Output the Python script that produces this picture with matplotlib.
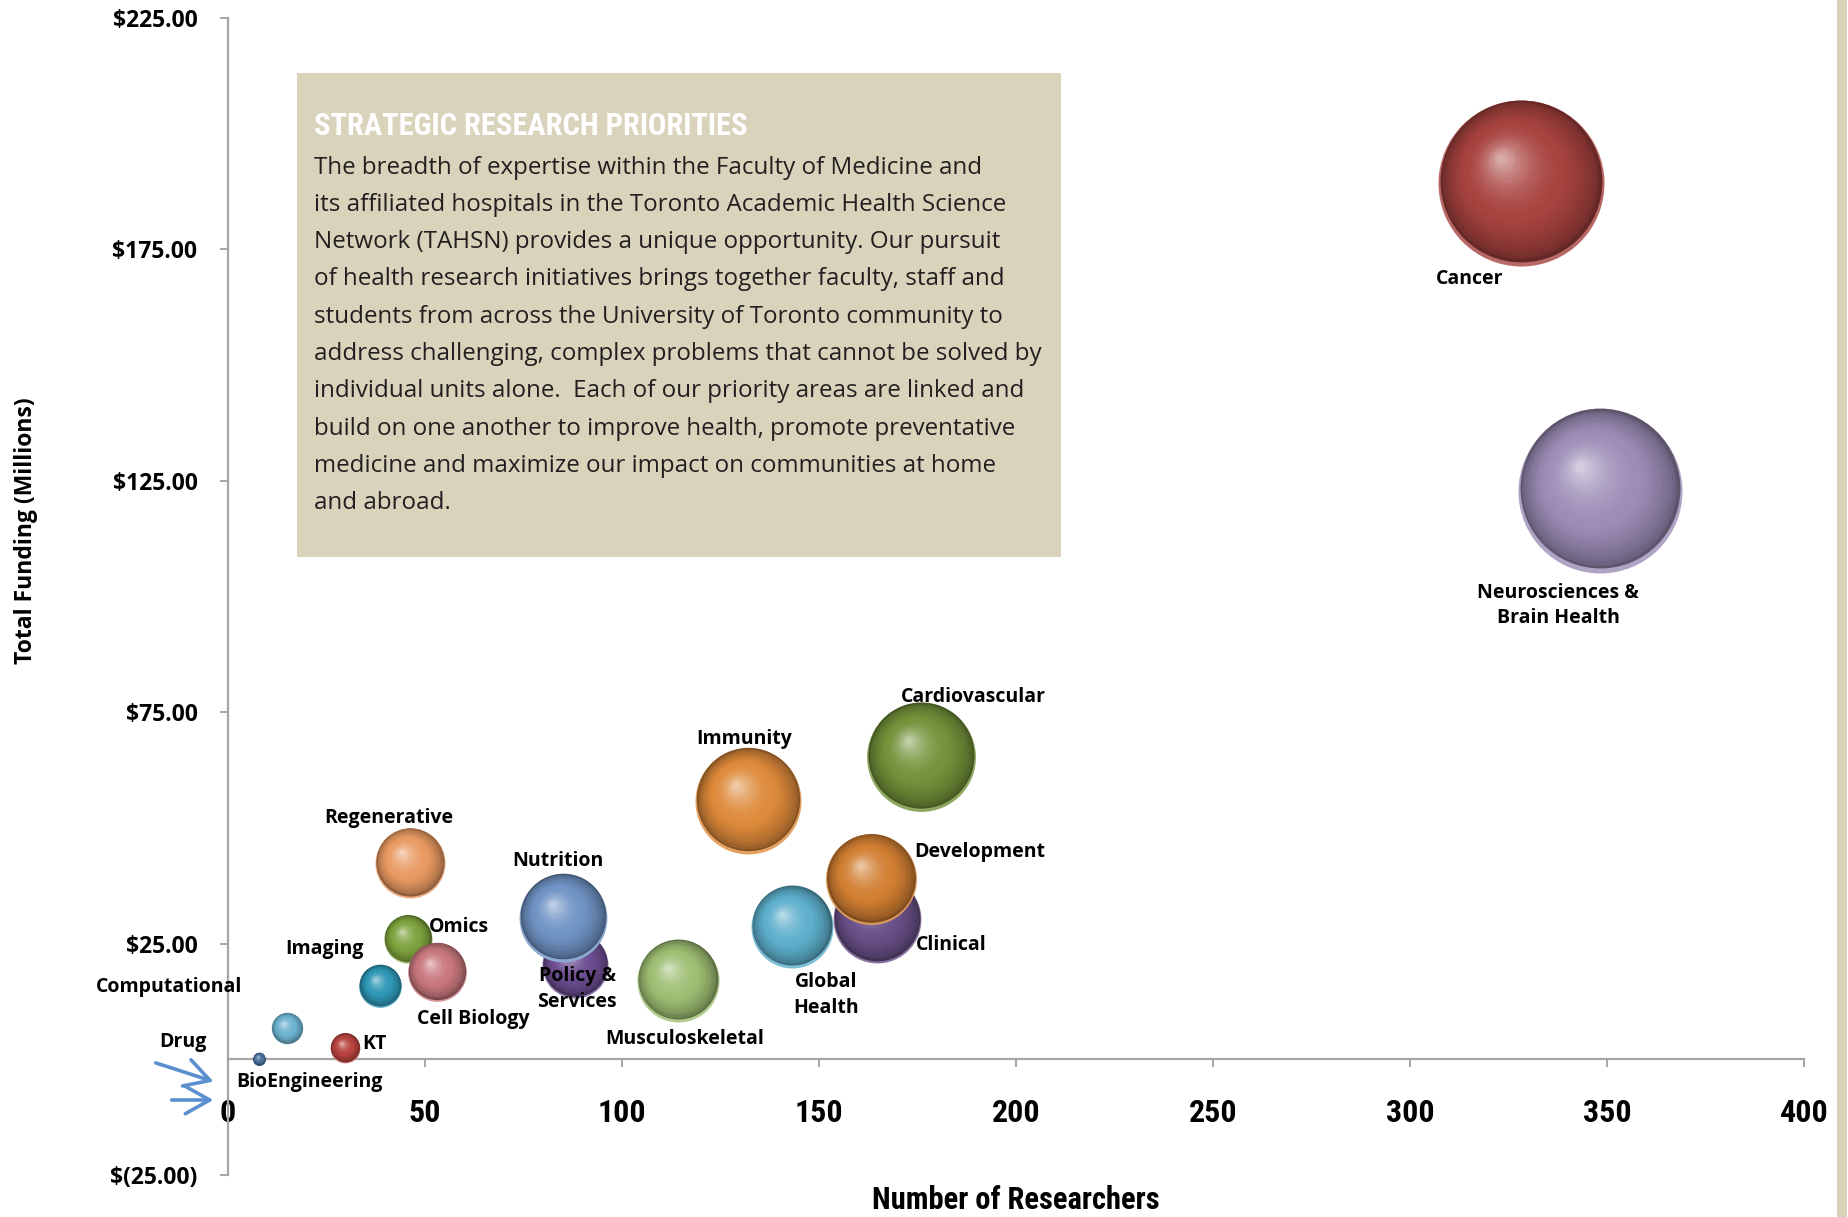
import os
import matplotlib
matplotlib.use("Agg")
import matplotlib.pyplot as plt
import numpy as np
from matplotlib import font_manager
from matplotlib.font_manager import FontProperties
from matplotlib.transforms import ScaledTranslation
from matplotlib.patches import Rectangle
from matplotlib.colors import to_rgb
from matplotlib.ticker import FuncFormatter

# ---------------------------------------------------------------- data
categories = ["Cancer", "Neurosciences & Brain Health", "Cardiovascular", "Immunity",
              "Clinical", "Development", "Global Health", "Musculoskeletal",
              "Policy & Services", "Nutrition", "Regenerative", "Omics",
              "Cell Biology", "Imaging", "Computational", "KT", "Drug",
              "BioEngineering"]
researchers = [328.2, 348.2, 176.0, 132.1, 164.7, 163.2, 143.1, 114.1,
               88.1, 85.0, 46.2, 45.6, 53.0, 38.7, 15.0, 29.7, 7.9, 0.0]
funding = [189.2, 122.7, 65.3, 55.8, 30.2, 38.9, 28.6, 17.0,
           20.4, 30.6, 42.4, 26.0, 18.9, 15.9, 6.7, 2.5, 0.1, 0.0]
bubble_size = [100.0, 97.6, 43.0, 40.8, 28.0, 30.0, 24.4, 24.4,
               15.8, 28.0, 17.8, 8.4, 12.5, 6.6, 3.6, 3.2, 0.6, 0.0]
x_ticks = [0, 50, 100, 150, 200, 250, 300, 350, 400]
y_ticks = [-25, 25, 75, 125, 175, 225]

# ---------------------------------------------------------------- styles
bubble_colors = {
    "Cancer": "#A8433F", "Neurosciences & Brain Health": "#9C8DB6",
    "Cardiovascular": "#73923A", "Immunity": "#DE8A3A", "Clinical": "#6A5088",
    "Development": "#D27F32", "Global Health": "#5DAFCB",
    "Musculoskeletal": "#9DBE72", "Policy & Services": "#6D4E92",
    "Nutrition": "#6F93C4", "Regenerative": "#E99A62", "Omics": "#7EA33E",
    "Cell Biology": "#C9787D", "Imaging": "#2E97B6", "Computational": "#6EB3D0",
    "KT": "#B8433E", "Drug": "#4A6F9E", "BioEngineering": "#4A6F9E",
}

# label text, anchor (data units), horizontal alignment
label_layout = {
    "Cancer": ("Cancer", 306.5, 168.6, "left"),
    "Neurosciences & Brain Health": ("Neurosciences &\nBrain Health", 337.6, 98.1, "center"),
    "Cardiovascular": ("Cardiovascular", 189.3, 78.3, "center"),
    "Immunity": ("Immunity", 131.0, 69.2, "center"),
    "Development": ("Development", 190.9, 44.8, "center"),
    "Clinical": ("Clinical", 183.5, 24.7, "center"),
    "Global Health": ("Global\nHealth", 151.8, 13.9, "center"),
    "Musculoskeletal": ("Musculoskeletal", 116.0, 4.4, "center"),
    "Policy & Services": ("Policy &\nServices", 88.6, 15.2, "center"),
    "Nutrition": ("Nutrition", 83.8, 42.8, "center"),
    "Regenerative": ("Regenerative", 40.9, 52.2, "center"),
    "Omics": ("Omics", 58.6, 28.6, "center"),
    "Cell Biology": ("Cell Biology", 62.2, 8.7, "center"),
    "Imaging": ("Imaging", 24.4, 23.9, "center"),
    "Computational": ("Computational", -15.0, 15.7, "center"),
    "KT": ("KT", 37.1, 3.3, "center"),
    "Drug": ("Drug", -11.4, 3.8, "center"),
    "BioEngineering": ("BioEngineering", 20.6, -4.9, "center"),
}


# ---------------------------------------------------------------- fonts
def pick_condensed_bold():
    prefs = ["liberationsansnarrow-bold", "robotocondensed-bold", "dejavusanscondensed-bold",
             "notosans-condensedbold", "opensans-condensedbold", "opensans_condensed-bold",
             "lato-black"]
    files = {os.path.basename(f.fname).lower(): f.fname for f in font_manager.fontManager.ttflist}
    for p in prefs:
        for name, path in files.items():
            if name.startswith(p) and "italic" not in name and "oblique" not in name:
                return FontProperties(fname=path)
    for name, path in files.items():
        if ("condensed" in name or "narrow" in name) and "bold" in name \
                and "italic" not in name and "oblique" not in name:
            return FontProperties(fname=path)
    for f in font_manager.fontManager.ttflist:
        if f.stretch in ("condensed", "semi-condensed") and f.weight in ("bold", 700):
            return FontProperties(fname=f.fname)
    return FontProperties(family="Roboto", weight="bold")


available = {f.name for f in font_manager.fontManager.ttflist}
label_font = "Open Sans" if "Open Sans" in available else "DejaVu Sans"
narrow_fp = pick_condensed_bold()


def narrow(size):
    fp = narrow_fp.copy()
    fp.set_size(size)
    return fp


BEIGE = "#D9D3BB"
AXIS_GRAY = "#A6A6A6"

W, H, DPI = 1849, 1217, 100
fig = plt.figure(figsize=(W / DPI, H / DPI), dpi=DPI)
fig.patch.set_facecolor("white")
ax = fig.add_axes([228 / W, 1 - 1175 / H, (1804 - 228) / W, (1175 - 17.7) / H])
ax.set_xlim(0, 400)
ax.set_ylim(-25, 225)
ax.patch.set_alpha(0)

# axes styling
for side in ("top", "right"):
    ax.spines[side].set_visible(False)
ax.spines["bottom"].set_position(("data", 0))
for side in ("left", "bottom"):
    ax.spines[side].set_color(AXIS_GRAY)
    ax.spines[side].set_linewidth(1.6)
ax.set_xticks(x_ticks)
ax.set_yticks(y_ticks)
ax.tick_params(axis="both", direction="out", length=6, width=1.4, color=AXIS_GRAY)
ax.tick_params(axis="x", pad=22)
ax.tick_params(axis="y", pad=16)


def money(v, _pos):
    if v < 0:
        return f"$({abs(v):.2f})"
    return f"${v:.2f}"


ax.yaxis.set_major_formatter(FuncFormatter(money))
for t in ax.get_yticklabels():
    t.set_fontfamily(label_font)
    t.set_fontweight("bold")
    t.set_fontsize(16.5)
for t in ax.get_xticklabels():
    t.set_fontproperties(narrow(23))

ax.set_xlabel("Number of Researchers", fontproperties=narrow(22))
ax.xaxis.set_label_coords(0.5, -0.022)
ax.xaxis.label.set_va("center")
ax.set_ylabel("Total Funding (Millions)", family=label_font, fontweight="bold", fontsize=16.5)
ax.yaxis.set_label_coords(-0.128, 0.557)
ax.yaxis.label.set_va("center")


# ---------------------------------------------------------------- bubbles
def mix(c1, c2, t):
    c1, c2 = np.array(c1), np.array(c2)
    return tuple(np.clip(c1 + (c2 - c1) * t, 0, 1))


def draw_sphere(x, y, size, color, z):
    """Shaded sphere built from stacked scatter discs (radius in pixels ~ sqrt(size))."""
    if size <= 0:
        return z
    r_px = 83.0 * np.sqrt(size / 100.0)
    r_pt = r_px * 72.0 / DPI
    base = np.array(to_rgb(color))
    dark = base * 0.6
    rim = mix(base, (1, 1, 1), 0.2)
    light = mix(base, (1, 1, 1), 0.55)

    def disc(rad_pt, dx_pt, dy_pt, col, zz):
        tr = ax.transData + ScaledTranslation(dx_pt / 72.0, dy_pt / 72.0, fig.dpi_scale_trans)
        ax.scatter([x], [y], s=(2 * rad_pt) ** 2, color=[col], linewidths=0,
                   transform=tr, zorder=zz, clip_on=False)

    disc(r_pt, 0, 0, rim, z)
    z += 0.001
    n = 28
    start = np.array([0.0, 0.035 * r_pt])
    hl = np.array([-0.24 * r_pt, 0.30 * r_pt])
    for i in range(n):
        t = i / (n - 1)
        rad = 0.975 * r_pt * (1 - t) + 0.06 * r_pt * t
        off = start * (1 - t) + hl * t
        if t < 0.4:
            col = mix(dark, base, (t / 0.4) ** 0.6)
        else:
            col = mix(base, light, ((t - 0.4) / 0.6) ** 1.8)
        disc(rad, off[0], off[1], col, z)
        z += 0.001
    return z


z = 3.0
for cat, xv, yv, sv in zip(categories, researchers, funding, bubble_size):
    z = draw_sphere(xv, yv, sv, bubble_colors[cat], z)

# category labels
for cat in categories:
    txt, lx, ly, ha = label_layout[cat]
    ax.text(lx, ly, txt, ha=ha, va="center", family=label_font, fontweight="bold",
            fontsize=14, color="black", zorder=20, clip_on=False, linespacing=1.35)

# pointer arrows at the origin
arrow_kw = dict(arrowstyle="->,head_length=0.8,head_width=0.45", color="#5B8FD0",
                lw=2.6, mutation_scale=22)
ax.annotate("", xy=(-3.0, -5.0), xytext=(-19.0, -0.6), xycoords="data",
            arrowprops=arrow_kw, annotation_clip=False)
ax.annotate("", xy=(-3.0, -8.8), xytext=(-15.0, -8.8), xycoords="data",
            arrowprops=arrow_kw, annotation_clip=False)

# ---------------------------------------------------------------- text panel
fig.patches.append(Rectangle((297 / W, 1 - 557 / H), (1061 - 297) / W, (557 - 73) / H,
                             transform=fig.transFigure, facecolor=BEIGE,
                             edgecolor="none", zorder=30))
fig.patches.append(Rectangle((1837 / W, 0), 10 / W, 1, transform=fig.transFigure,
                             facecolor=BEIGE, edgecolor="none", zorder=30))

fig.text(314 / W, 1 - 126 / H, "STRATEGIC RESEARCH PRIORITIES", fontproperties=narrow(22),
         color="white", va="center", ha="left", zorder=31)
body = [
    "The breadth of expertise within the Faculty of Medicine and",
    "its affiliated hospitals in the Toronto Academic Health Science",
    "Network (TAHSN) provides a unique opportunity. Our pursuit",
    "of health research initiatives brings together faculty, staff and",
    "students from across the University of Toronto community to",
    "address challenging, complex problems that cannot be solved by",
    "individual units alone.  Each of our priority areas are linked and",
    "build on one another to improve health, promote preventative",
    "medicine and maximize our impact on communities at home",
    "and abroad.",
]
for i, line in enumerate(body):
    fig.text(314 / W, 1 - (167.5 + 37.3 * i) / H, line, family=label_font,
             fontsize=17.4, color="#231F20", va="center", ha="left", zorder=31)

fig.savefig("out.png", dpi=DPI, facecolor="white")
